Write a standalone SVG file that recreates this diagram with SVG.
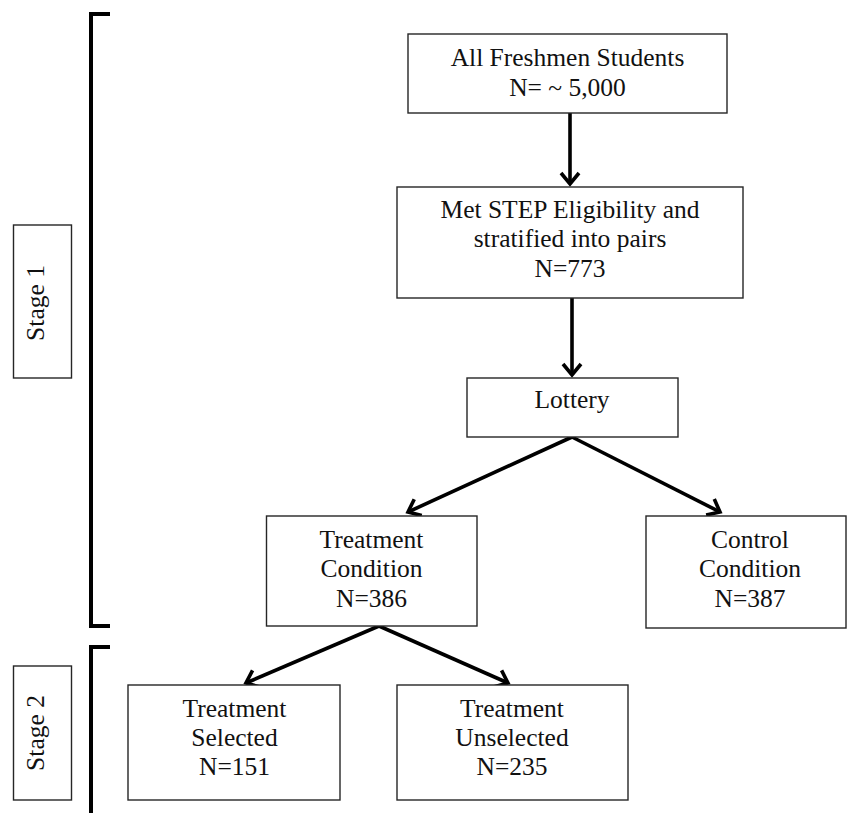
<svg xmlns="http://www.w3.org/2000/svg" width="848" height="813" viewBox="0 0 848 813">
  <defs>
    <style>
      .box { fill: #ffffff; stroke: #262626; stroke-width: 1.4; }
      .lbl { font-family: "Liberation Serif", "Times New Roman", serif; font-size: 25.5px; fill: #111111; text-anchor: middle; }
      .conn { stroke: #000000; stroke-width: 3.6; fill: none; stroke-linecap: butt; }
      .bracket { stroke: #000000; stroke-width: 4; fill: none; stroke-linejoin: miter; }
    </style>
    <marker id="arrow" markerUnits="userSpaceOnUse" markerWidth="30" markerHeight="30" viewBox="-15 -15 30 30" refX="0" refY="0" orient="auto">
      <path d="M-11,-9 L0,0 L-11,9" fill="none" stroke="#000000" stroke-width="3.6" stroke-linejoin="miter"/>
    </marker>
  </defs>

  <rect x="0" y="0" width="848" height="813" fill="#ffffff"/>

  <g id="brackets">
    <path class="bracket" d="M110,14 H91 V626 H110"/>
    <path class="bracket" d="M110,647 H91 V813"/>
  </g>

  <g id="stage1">
    <rect class="box" x="13.5" y="225" width="58" height="153"/>
    <text class="lbl" transform="translate(44,303) rotate(-90)" x="0" y="0">Stage 1</text>
  </g>

  <g id="stage2">
    <rect class="box" x="13.5" y="666" width="58" height="134"/>
    <text class="lbl" transform="translate(44,733) rotate(-90)" x="0" y="0">Stage 2</text>
  </g>

  <g id="connectors">
    <line class="conn" x1="570" y1="113" x2="570" y2="184" marker-end="url(#arrow)"/>
    <line class="conn" x1="572" y1="298" x2="572" y2="375" marker-end="url(#arrow)"/>
    <line class="conn" x1="572" y1="437" x2="408" y2="512" marker-end="url(#arrow)"/>
    <line class="conn" x1="572" y1="437" x2="720" y2="512" marker-end="url(#arrow)"/>
    <line class="conn" x1="379" y1="626" x2="246" y2="683" marker-end="url(#arrow)"/>
    <line class="conn" x1="379" y1="626" x2="508" y2="683" marker-end="url(#arrow)"/>
  </g>

  <g id="all-freshmen">
    <rect class="box" x="408" y="34" width="319" height="79"/>
    <text class="lbl" x="567.5" y="66">All Freshmen Students</text>
    <text class="lbl" x="567.5" y="96">N= ~ 5,000</text>
  </g>

  <g id="eligibility">
    <rect class="box" x="397" y="187" width="346" height="111"/>
    <text class="lbl" x="570" y="218">Met STEP Eligibility and</text>
    <text class="lbl" x="570" y="247">stratified into pairs</text>
    <text class="lbl" x="570" y="277">N=773</text>
  </g>

  <g id="lottery">
    <rect class="box" x="467" y="378" width="211" height="59"/>
    <text class="lbl" x="572" y="408">Lottery</text>
  </g>

  <g id="treatment-condition">
    <rect class="box" x="266.5" y="516" width="210.5" height="110"/>
    <text class="lbl" x="371.5" y="548">Treatment</text>
    <text class="lbl" x="371.5" y="577">Condition</text>
    <text class="lbl" x="371.5" y="607">N=386</text>
  </g>

  <g id="control-condition">
    <rect class="box" x="646" y="516" width="200" height="112"/>
    <text class="lbl" x="750" y="548">Control</text>
    <text class="lbl" x="750" y="577">Condition</text>
    <text class="lbl" x="750" y="607">N=387</text>
  </g>

  <g id="treatment-selected">
    <rect class="box" x="128" y="685" width="212" height="115"/>
    <text class="lbl" x="234.5" y="717">Treatment</text>
    <text class="lbl" x="234.5" y="746">Selected</text>
    <text class="lbl" x="234.5" y="775">N=151</text>
  </g>

  <g id="treatment-unselected">
    <rect class="box" x="397" y="685" width="231" height="115"/>
    <text class="lbl" x="512" y="717">Treatment</text>
    <text class="lbl" x="512" y="746">Unselected</text>
    <text class="lbl" x="512" y="775">N=235</text>
  </g>
</svg>
